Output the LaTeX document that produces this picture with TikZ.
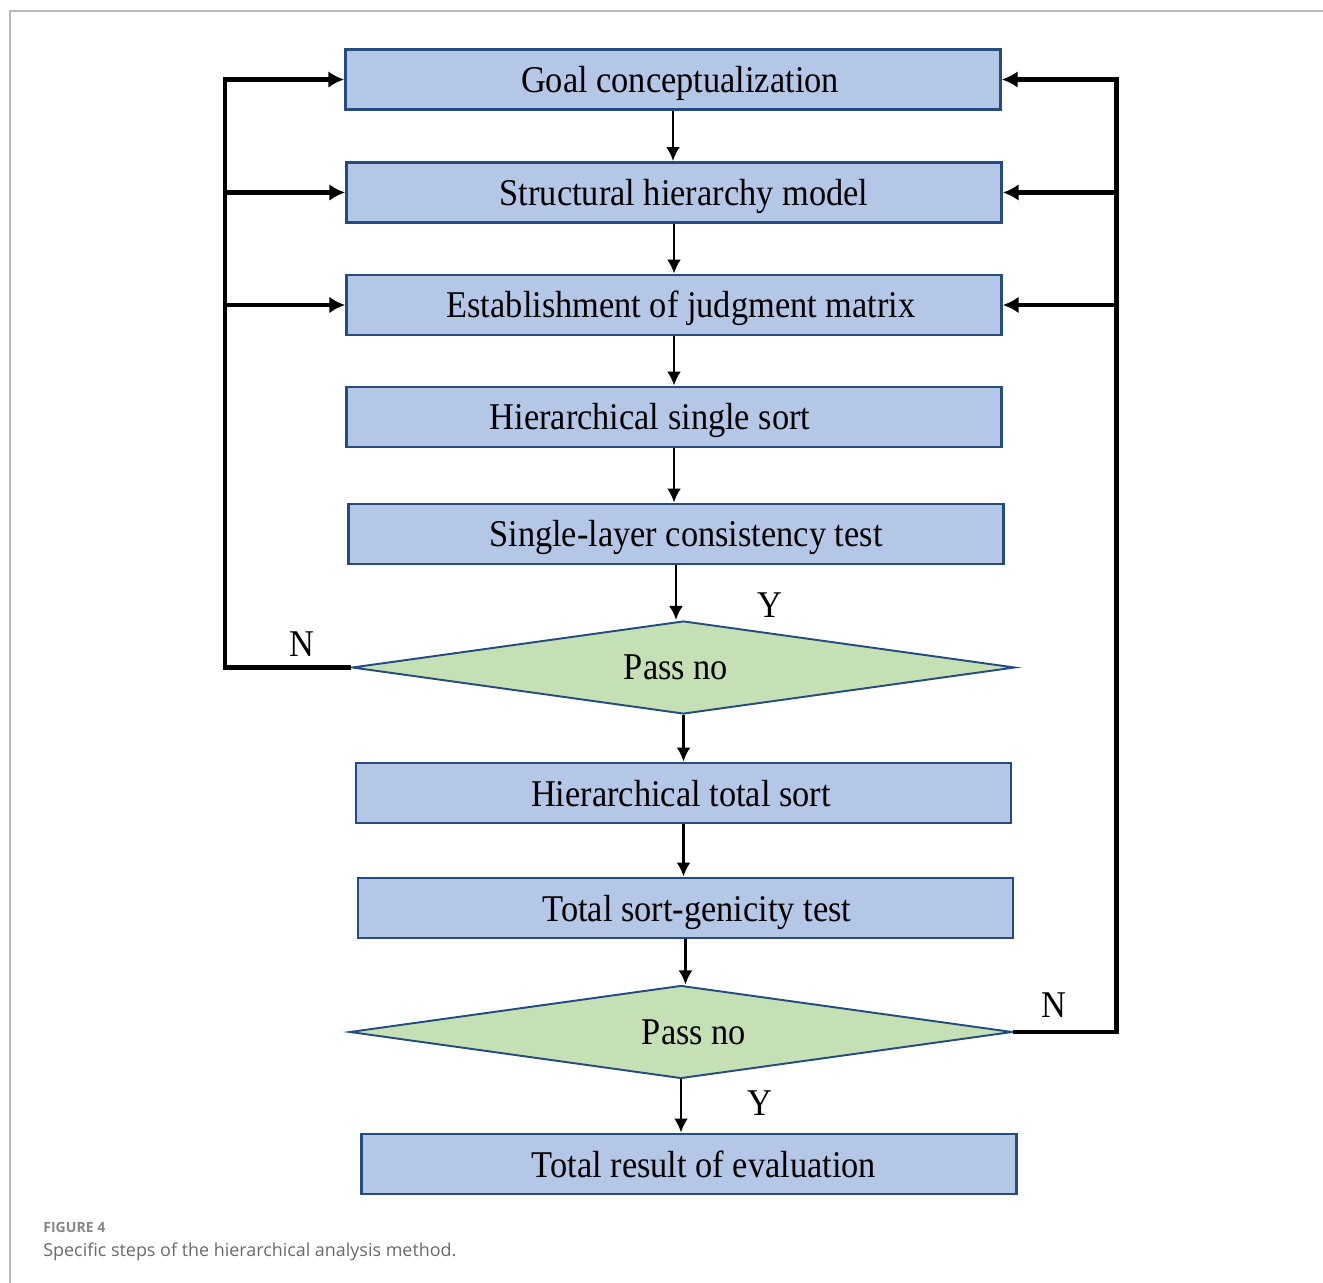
\documentclass[tikz,border=0pt]{standalone}
\usepackage{fontspec}
\setmainfont{Liberation Serif}
\newfontfamily\stepfont[FakeStretch=0.91]{Liberation Serif}
\newfontfamily\capfont{Open Sans}
\usetikzlibrary{shapes.geometric,arrows,arrows.meta,positioning}

\definecolor{boxblue}{RGB}{180,199,231}
\definecolor{boxedge}{RGB}{37,76,126}
\definecolor{decgreen}{RGB}{197,224,180}
\definecolor{capgray}{RGB}{105,105,105}
\definecolor{figgray}{RGB}{135,135,135}
\definecolor{framegray}{RGB}{185,185,185}

% shift the text of a node sideways (twice the offset)
\newcommand{\offtext}[2]{\hspace*{#1}#2}

\begin{document}
\begin{tikzpicture}[
  x=0.02cm,
  y=-0.02cm
]

  \tikzstyle{stepnode}=[draw=boxedge,rectangle,fill=boxblue,line width=1.6pt,minimum height=1.2cm,minimum width=13.1cm,inner sep=0mm,text height=17pt,text depth=2.2pt,font=\stepfont\fontsize{21.5}{24}\selectfont]
  \tikzstyle{decnode}=[draw=boxedge,diamond,aspect=8,fill=decgreen,line width=1.1pt,minimum height=1.86cm,minimum width=13.26cm,inner sep=0mm,font=\stepfont\fontsize{21.5}{24}\selectfont]
  \tikzstyle{lab}=[font=\stepfont\fontsize{21.5}{24}\selectfont]

  \tikzstyle{pointer}=[draw,->,>={Latex[length=8pt,width=8pt]},line width=1.7pt]
  \tikzstyle{loopline}=[draw,->,>={Latex[length=9pt,width=9.5pt]},line width=2.5pt]

  \useasboundingbox (0,0) rectangle (1323,1283);

  % frame
  \draw[framegray,line width=1.1pt] (1323,11) -- (10,11) -- (10,1283);

  % nodes
  \node[stepnode] (goal) at (673,79.5) {\offtext{0.28cm}{Goal conceptualization}};
  \node[stepnode] (model) at (674,192.5) {\offtext{0.4cm}{Structural hierarchy model}};
  \node[stepnode] (matrix) at (674,305) {\offtext{0.28cm}{Establishment of judgment matrix}};
  \node[stepnode] (single) at (674,417) {\offtext{-0.96cm}{Hierarchical single sort}};
  \node[stepnode] (sltest) at (676,534) {\offtext{0.4cm}{Single-layer consistency test}};
  \node[decnode] (pass1) at (683.5,667.5) {\offtext{-0.3cm}{Pass no}};
  \node[stepnode] (total) at (683.5,793) {\offtext{-0.1cm}{Hierarchical total sort}};
  \node[stepnode] (tstest) at (685.5,908) {\offtext{0.46cm}{Total sort-genicity test}};
  \node[decnode] (pass2) at (681,1032) {\offtext{0.52cm}{Pass no}};
  \node[stepnode] (result) at (689,1164) {\offtext{0.6cm}{Total result of evaluation}};

  \node[lab] (n1) at (302,644) {N};
  \node[lab] (y1) at (770,605) {Y};
  \node[lab] (n2) at (1054,1005) {N};
  \node[lab] (y2) at (760,1103) {Y};

  % pointers
  \draw[pointer] (goal.south) -- (goal.south |- model.north);
  \draw[pointer] (model.south) -- (model.south |- matrix.north);
  \draw[pointer] (matrix.south) -- (matrix.south |- single.north);
  \draw[pointer] (single.south) -- (single.south |- sltest.north);
  \draw[pointer] (sltest.south) -- (sltest.south |- pass1.north);
  \draw[pointer] (pass1.south) -- (pass1.south |- total.north);
  \draw[pointer] (total.south) -- (total.south |- tstest.north);
  \draw[pointer] (tstest.south) -- (tstest.south |- pass2.north);
  \draw[pointer] (pass2.south) -- (pass2.south |- result.north);

  % feedback loops
  \draw[loopline] (pass1.west) -- ++(-126,0) coordinate (lc) |- (goal.west);
  \draw[loopline] (lc |- model.west) -- (model.west);
  \draw[loopline] (lc |- matrix.west) -- (matrix.west);

  \draw[loopline] (pass2.east) -- ++(103,0) coordinate (rc) |- (goal.east);
  \draw[loopline] (rc |- model.east) -- (model.east);
  \draw[loopline] (rc |- matrix.east) -- (matrix.east);

  % caption
  \node[anchor=base west,inner sep=0pt,text=figgray,font=\capfont\bfseries\fontsize{8}{10}\selectfont] (fig) at (43,1232) {FIGURE 4};
  \node[anchor=base west,inner sep=0pt,text=capgray,font=\capfont\fontsize{10.2}{12}\selectfont] (cap) at (43,1256) {Specific steps of the hierarchical analysis method.};

\end{tikzpicture}
\end{document}
